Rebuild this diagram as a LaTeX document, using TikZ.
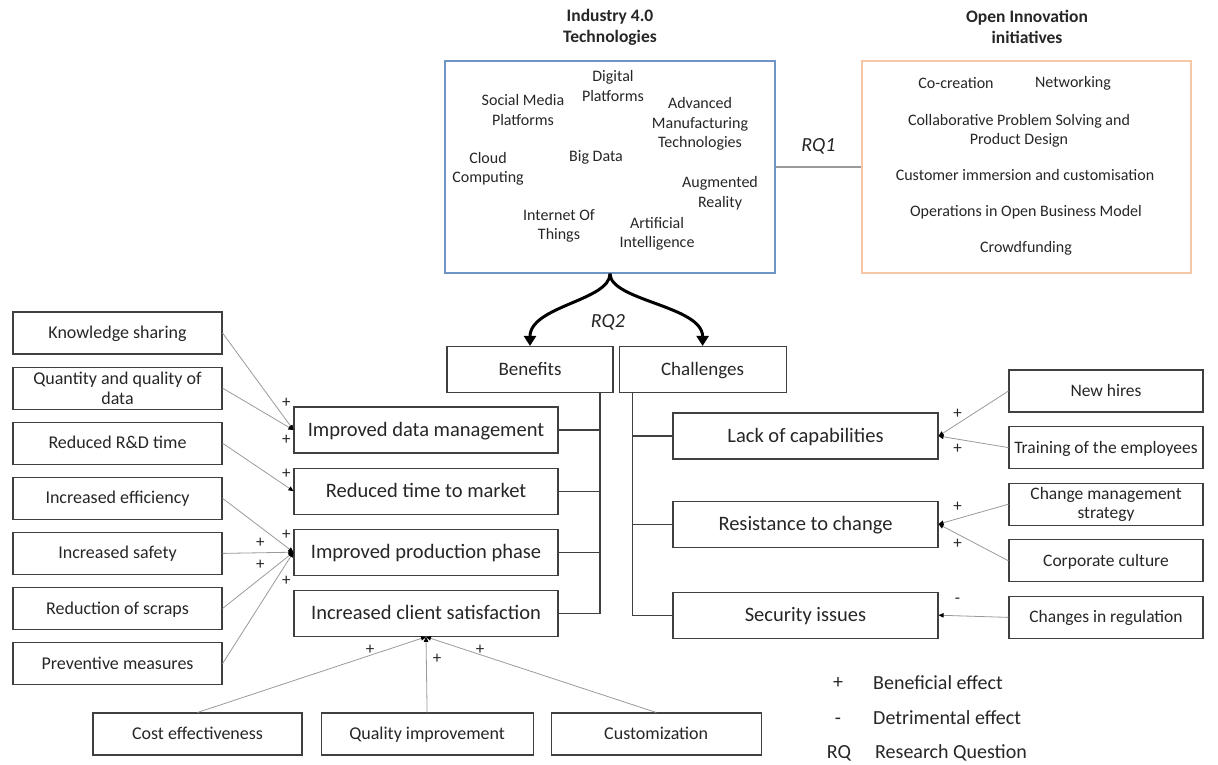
\documentclass[tikz,border=0pt]{standalone}
\usepackage{fontspec}
\setmainfont{Carlito}
\usepackage{tikz}
\usetikzlibrary{arrows.meta,positioning}
\definecolor{boxgray}{HTML}{404040}
\definecolor{linkgray}{HTML}{9A9A9A}
\definecolor{techblue}{HTML}{6F94C6}
\definecolor{openorange}{HTML}{F6C7A6}
\definecolor{inkgray}{HTML}{262626}
\tikzset{
  box/.style={draw=boxgray, line width=1.1pt, align=center, inner sep=2pt, text=inkgray},
  causebox/.style={box, minimum width=209pt, minimum height=42pt, font=\fontsize{18}{20}\selectfont,
                   text height=15pt, text depth=4pt},
  effectbox/.style={box, minimum width=264pt, minimum height=46pt, font=\fontsize{20.5}{22}\selectfont,
                    text height=16.5pt, text depth=4pt},
  headbox/.style={box, minimum width=166pt, minimum height=46pt, font=\fontsize{19}{21}\selectfont,
                  text height=15.5pt, text depth=4pt},
  twoline/.style={text height=, text depth=},
  areabox/.style={minimum width=330pt, minimum height=212pt, line width=1.3pt},
  item/.style={align=center, text=inkgray, font=\fontsize{16}{19.5}\selectfont, inner sep=0pt},
  heading/.style={align=center, text=inkgray, font=\bfseries\fontsize{17.5}{21}\selectfont},
  rqlabel/.style={text=inkgray, font=\itshape\fontsize{20}{22}\selectfont},
  sign/.style={text=inkgray, font=\fontsize{17}{18}\selectfont, inner sep=0pt},
  infl/.style={-{Triangle[length=5pt, width=4.5pt, color=black]}, draw=linkgray, line width=0.8pt},
  tree/.style={draw=boxgray, line width=1.1pt},
  fork/.style={-{Triangle[length=10pt, width=12pt]}, line width=3pt, draw=black},
  legend/.style={text=inkgray, font=\fontsize{20}{22}\selectfont, anchor=west, inner sep=0pt}
}

\begin{document}
\begin{tikzpicture}[x=1pt, y=-1pt, node distance=12pt]
  \useasboundingbox (0,0) rectangle (1218,765);

  \node[heading] (techtitle) at (610,27) {Industry 4.0\\Technologies};
  \node[areabox, draw=techblue] (tech) at (610,167) {};
  \node[heading] (opentitle) at (1027,27) {Open Innovation\\initiatives};
  \node[areabox, draw=openorange, line width=1.6pt, minimum width=329pt] (open) at (1026.5,167) {};

  \node[item] (digital) at (613,86) {Digital\\Platforms};
  \node[item] (social) at (523,110) {Social Media\\Platforms};
  \node[item] (advanced) at (700,124) {Advanced\\Manufacturing\\Technologies};
  \node[item] (cloud) at (488,169) {Cloud\\Computing};
  \node[item] (bigdata) at (596,157) {Big Data};
  \node[item] (augmented) at (720,193) {Augmented\\Reality};
  \node[item] (iot) at (559,226) {Internet Of\\Things};
  \node[item] (ai) at (657,234) {Artificial\\Intelligence};

  \node[item] (cocreation) at (956,83) {Co-creation};
  \node[item] (networking) at (1073,83) {Networking};
  \node[item] (collab) at (1019,131) {Collaborative Problem Solving and\\Product Design};
  \node[item] (immersion) at (1025,175) {Customer immersion and customisation};
  \node[item] (openbm) at (1026,212) {Operations in Open Business Model};
  \node[item] (crowd) at (1026,248) {Crowdfunding};

  \draw[draw=linkgray, line width=1.2pt] (tech) -- node[rqlabel, yshift=21pt] (rqone) {RQ1} (open);

  \node[headbox] (benefits) at (530,369.5) {Benefits};
  \node[headbox, right=5pt of benefits, minimum width=167pt] (challenges) {Challenges};
  \draw[fork] (tech.south) .. controls ([yshift=-27pt]tech.south) and ([yshift=40pt]benefits.north) .. (benefits.north);
  \draw[fork] (tech.south) .. controls ([yshift=-27pt]tech.south) and ([yshift=40pt]challenges.north) .. (challenges.north);
  \node[rqlabel] (rqtwo) at (608,322) {RQ2};

  \node[effectbox] (datamgmt) at (426,430) {Improved data management};
  \node[effectbox, below=14pt of datamgmt] (timemarket) {Reduced time to market};
  \node[effectbox, below=14pt of timemarket] (production) {Improved production phase};
  \node[effectbox, below=14pt of production] (satisfaction) {Increased client satisfaction};

  \node[effectbox, minimum width=265pt] (capabilities) at (805.5,436) {Lack of capabilities};
  \node[effectbox, minimum width=265pt, below=41pt of capabilities] (resistance) {Resistance to change};
  \node[effectbox, minimum width=265pt, below=44pt of resistance] (security) {Security issues};

  \node[causebox] (knowledge) at (117.5,333) {Knowledge sharing};
  \node[causebox, twoline, below=of knowledge] (dataqq) {Quantity and quality of\\data};
  \node[causebox, below=of dataqq] (rdtime) {Reduced R\&D time};
  \node[causebox, below=of rdtime] (efficiency) {Increased efficiency};
  \node[causebox, below=of efficiency] (safety) {Increased safety};
  \node[causebox, below=of safety] (scraps) {Reduction of scraps};
  \node[causebox, below=of scraps] (preventive) {Preventive measures};

  \node[causebox, minimum width=194pt, font=\fontsize{17.5}{19.5}\selectfont] (newhires) at (1106,391) {New hires};
  \node[causebox, minimum width=194pt, font=\fontsize{17.5}{19.5}\selectfont, below=13.5pt of newhires] (training) {Training of the employees};
  \node[causebox, twoline, minimum width=194pt, font=\fontsize{17.5}{19.5}\selectfont, below=13.5pt of training] (changemgmt) {Change management\\strategy};
  \node[causebox, minimum width=194pt, font=\fontsize{17.5}{19.5}\selectfont, below=13.5pt of changemgmt] (culture) {Corporate culture};
  \node[causebox, minimum width=194pt, font=\fontsize{17.5}{19.5}\selectfont, below=13.5pt of culture] (regulation) {Changes in regulation};

  \node[causebox] (cost) at (197.5,734) {Cost effectiveness};
  \node[causebox, minimum width=212pt, right=18pt of cost] (quality) {Quality improvement};
  \node[causebox, minimum width=210pt, right=17pt of quality] (custom) {Customization};

  \coordinate (benefitspine) at ([xshift=70pt]benefits.south);
  \draw[tree] (benefitspine) |- (satisfaction.east);
  \foreach \effect in {datamgmt,timemarket,production}
    \draw[tree] (\effect.east) -- (\effect.east -| benefitspine);
  \coordinate (challengespine) at ([xshift=-70pt]challenges.south);
  \draw[tree] (challengespine) |- (security.west);
  \foreach \effect in {capabilities,resistance}
    \draw[tree] (challengespine |- \effect.west) -- (\effect.west);

  \draw[infl] (knowledge.east) -- (datamgmt.west) node[sign, xshift=-7pt, yshift=27pt] {+};
  \draw[infl] (dataqq.east) -- (datamgmt.west) node[sign, xshift=-7pt, yshift=-10pt] {+};
  \draw[infl] (rdtime.east) -- (timemarket.west) node[sign, xshift=-7pt, yshift=17pt] {+};
  \draw[infl] (efficiency.east) -- (production.west) node[sign, xshift=-7pt, yshift=17pt] {+};
  \draw[infl] (safety.east) -- (production.west) node[sign, xshift=-33pt, yshift=9pt] {+};
  \draw[infl] (scraps.east) -- (production.west) node[sign, xshift=-33pt, yshift=-13pt] {+};
  \draw[infl] (preventive.east) -- (production.west) node[sign, xshift=-7pt, yshift=-29pt] {+};

  \draw[infl] (cost.north) -- (satisfaction.south) node[sign, xshift=-56pt, yshift=-13pt] {+};
  \draw[infl] (quality.north) -- (satisfaction.south) node[sign, xshift=11pt, yshift=-22pt] {+};
  \draw[infl] (custom.north) -- (satisfaction.south) node[sign, xshift=54pt, yshift=-13pt] {+};

  \draw[infl] (newhires.west) -- (capabilities.east) node[sign, xshift=19pt, yshift=22pt] {+};
  \draw[infl] (training.west) -- (capabilities.east) node[sign, xshift=19pt, yshift=-13pt] {+};
  \draw[infl] (changemgmt.west) -- (resistance.east) node[sign, xshift=19pt, yshift=17pt] {+};
  \draw[infl] (culture.west) -- (resistance.east) node[sign, xshift=19pt, yshift=-20pt] {+};
  \draw[infl] (regulation.west) -- (security.east) node[sign, xshift=19pt, yshift=14pt] {-};

  \node[legend, anchor=center] (plus) at (838,683) {+};
  \node[legend] (beneficial) at (873,683) {Beneficial effect};
  \node[legend, anchor=center, yshift=-3pt] (minus) at (838,718) {-};
  \node[legend] (detrimental) at (873,718) {Detrimental effect};
  \node[legend, anchor=center] (rq) at (839,753) {RQ};
  \node[legend] (question) at (875,753) {Research Question};
\end{tikzpicture}
\end{document}
